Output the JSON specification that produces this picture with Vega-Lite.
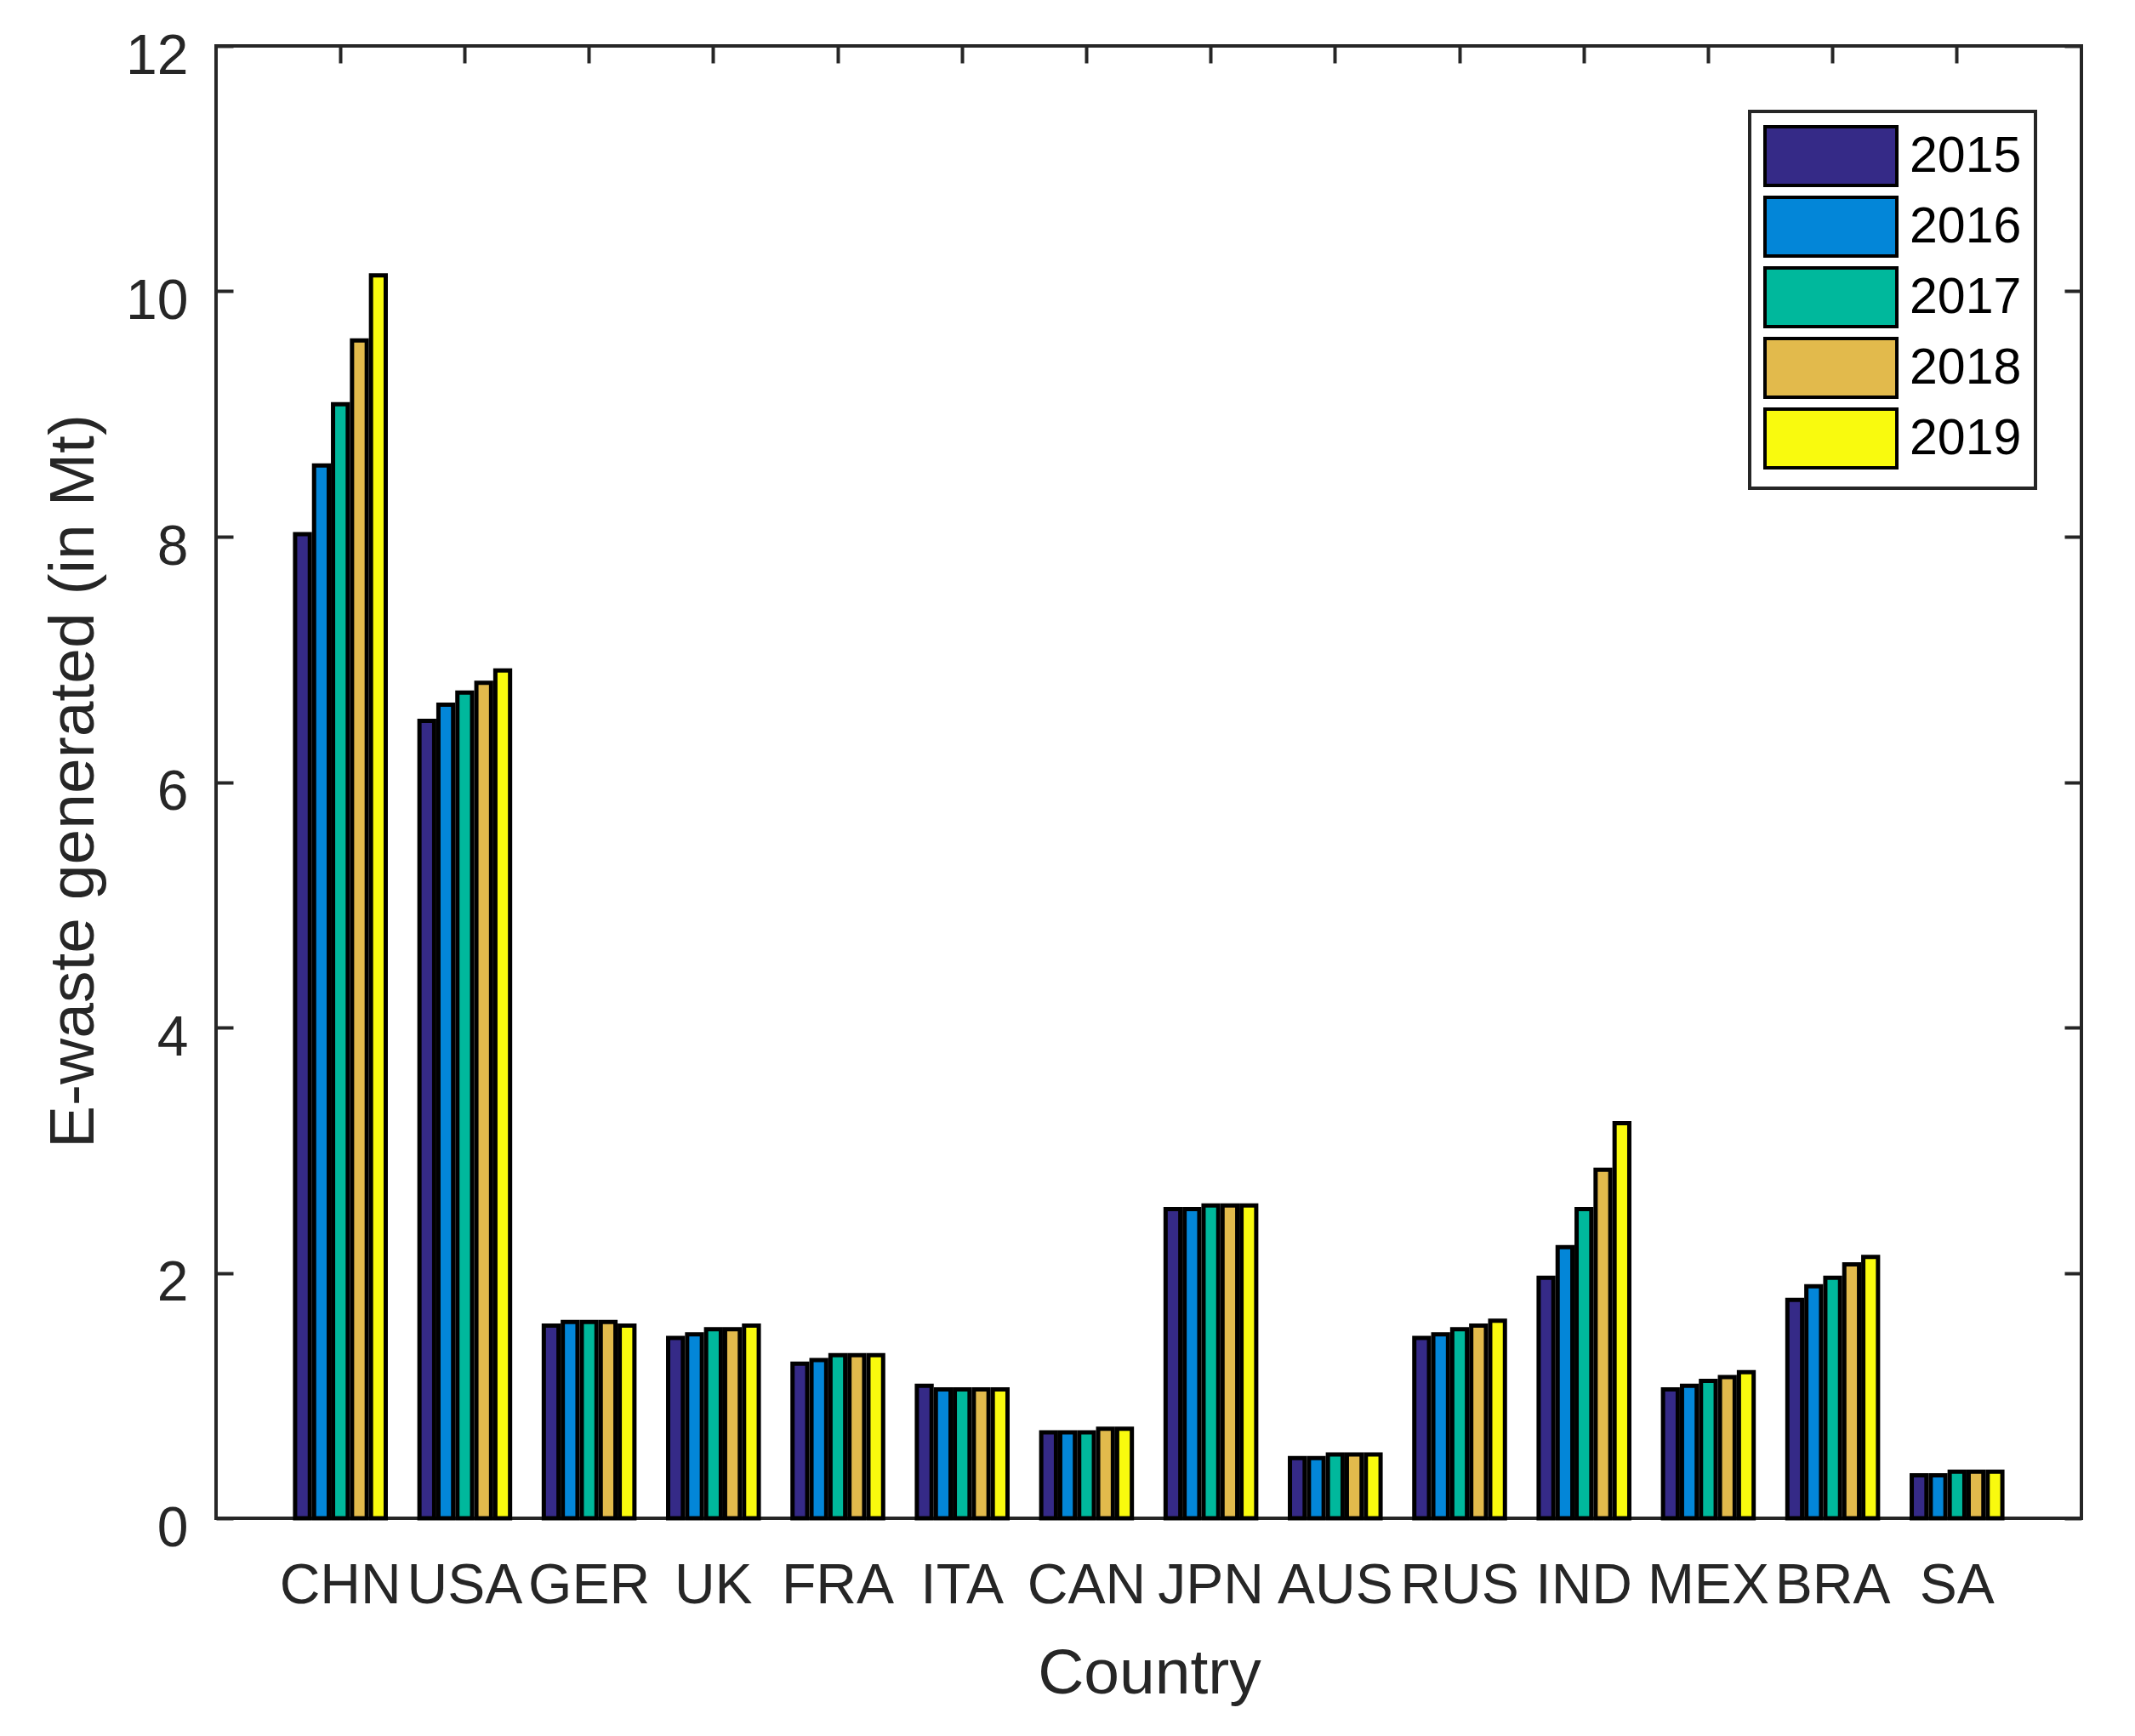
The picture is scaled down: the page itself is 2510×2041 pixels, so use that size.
{
  "$schema": "https://vega.github.io/schema/vega-lite/v6.json",
  "width": 2193,
  "height": 1731,
  "autosize": {"type": "none"},
  "padding": {"left": 254, "top": 54, "right": 63, "bottom": 256},
  "background": "white",
  "data": {
    "values": [
      {"country": "CHN", "year": "2015", "value": 8.02},
      {"country": "CHN", "year": "2016", "value": 8.58},
      {"country": "CHN", "year": "2017", "value": 9.08},
      {"country": "CHN", "year": "2018", "value": 9.60},
      {"country": "CHN", "year": "2019", "value": 10.13},
      {"country": "USA", "year": "2015", "value": 6.50},
      {"country": "USA", "year": "2016", "value": 6.63},
      {"country": "USA", "year": "2017", "value": 6.73},
      {"country": "USA", "year": "2018", "value": 6.81},
      {"country": "USA", "year": "2019", "value": 6.91},
      {"country": "GER", "year": "2015", "value": 1.57},
      {"country": "GER", "year": "2016", "value": 1.60},
      {"country": "GER", "year": "2017", "value": 1.60},
      {"country": "GER", "year": "2018", "value": 1.60},
      {"country": "GER", "year": "2019", "value": 1.57},
      {"country": "UK", "year": "2015", "value": 1.47},
      {"country": "UK", "year": "2016", "value": 1.50},
      {"country": "UK", "year": "2017", "value": 1.54},
      {"country": "UK", "year": "2018", "value": 1.54},
      {"country": "UK", "year": "2019", "value": 1.57},
      {"country": "FRA", "year": "2015", "value": 1.26},
      {"country": "FRA", "year": "2016", "value": 1.29},
      {"country": "FRA", "year": "2017", "value": 1.33},
      {"country": "FRA", "year": "2018", "value": 1.33},
      {"country": "FRA", "year": "2019", "value": 1.33},
      {"country": "ITA", "year": "2015", "value": 1.08},
      {"country": "ITA", "year": "2016", "value": 1.05},
      {"country": "ITA", "year": "2017", "value": 1.05},
      {"country": "ITA", "year": "2018", "value": 1.05},
      {"country": "ITA", "year": "2019", "value": 1.05},
      {"country": "CAN", "year": "2015", "value": 0.70},
      {"country": "CAN", "year": "2016", "value": 0.70},
      {"country": "CAN", "year": "2017", "value": 0.70},
      {"country": "CAN", "year": "2018", "value": 0.73},
      {"country": "CAN", "year": "2019", "value": 0.73},
      {"country": "JPN", "year": "2015", "value": 2.52},
      {"country": "JPN", "year": "2016", "value": 2.52},
      {"country": "JPN", "year": "2017", "value": 2.55},
      {"country": "JPN", "year": "2018", "value": 2.55},
      {"country": "JPN", "year": "2019", "value": 2.55},
      {"country": "AUS", "year": "2015", "value": 0.49},
      {"country": "AUS", "year": "2016", "value": 0.49},
      {"country": "AUS", "year": "2017", "value": 0.52},
      {"country": "AUS", "year": "2018", "value": 0.52},
      {"country": "AUS", "year": "2019", "value": 0.52},
      {"country": "RUS", "year": "2015", "value": 1.47},
      {"country": "RUS", "year": "2016", "value": 1.50},
      {"country": "RUS", "year": "2017", "value": 1.54},
      {"country": "RUS", "year": "2018", "value": 1.57},
      {"country": "RUS", "year": "2019", "value": 1.61},
      {"country": "IND", "year": "2015", "value": 1.96},
      {"country": "IND", "year": "2016", "value": 2.21},
      {"country": "IND", "year": "2017", "value": 2.52},
      {"country": "IND", "year": "2018", "value": 2.84},
      {"country": "IND", "year": "2019", "value": 3.22},
      {"country": "MEX", "year": "2015", "value": 1.05},
      {"country": "MEX", "year": "2016", "value": 1.08},
      {"country": "MEX", "year": "2017", "value": 1.12},
      {"country": "MEX", "year": "2018", "value": 1.15},
      {"country": "MEX", "year": "2019", "value": 1.19},
      {"country": "BRA", "year": "2015", "value": 1.78},
      {"country": "BRA", "year": "2016", "value": 1.89},
      {"country": "BRA", "year": "2017", "value": 1.96},
      {"country": "BRA", "year": "2018", "value": 2.07},
      {"country": "BRA", "year": "2019", "value": 2.13},
      {"country": "SA", "year": "2015", "value": 0.35},
      {"country": "SA", "year": "2016", "value": 0.35},
      {"country": "SA", "year": "2017", "value": 0.38},
      {"country": "SA", "year": "2018", "value": 0.38},
      {"country": "SA", "year": "2019", "value": 0.38}
    ]
  },
  "layer": [
    {
      "mark": {"type": "bar", "stroke": "black", "strokeWidth": 5, "opacity": 1},
      "encoding": {
        "x": {
          "field": "country", "type": "nominal", "sort": null,
          "scale": {"paddingInner": 0.237, "paddingOuter": 0.6185},
          "axis": {
            "orient": "bottom", "title": "Country", "ticks": false, "domain": false,
            "labelAngle": 0, "labelBaseline": "alphabetic", "labelPadding": 99,
            "titleX": 1097, "titleY": 205, "titleBaseline": "alphabetic", "titleAlign": "center", "titleAnchor": null
          }
        },
        "xOffset": {
          "field": "year", "type": "nominal",
          "scale": {"paddingInner": 0.224, "paddingOuter": 0.112}
        },
        "y": {
          "field": "value", "type": "quantitative",
          "scale": {"domain": [0, 12], "nice": false, "zero": true},
          "axis": {
            "orient": "left", "title": "E-waste generated (in Mt)", "domain": false,
            "values": [0, 2, 4, 6, 8, 10, 12], "format": "d",
            "ticks": true, "tickSize": -20, "tickWidth": 4, "tickColor": "#262626",
            "labelPadding": 53, "labelBaseline": "alphabetic", "labelOffset": 32,
            "titleX": -145, "titleY": 864, "titleBaseline": "alphabetic", "titleAlign": "center", "titleAngle": -90
          }
        },
        "color": {
          "field": "year", "type": "nominal",
          "scale": {"domain": ["2015", "2016", "2017", "2018", "2019"], "range": ["#352A87", "#0386D8", "#00B89C", "#E2BA4C", "#F9FA0E"]},
          "legend": {
            "title": null, "orient": "none", "legendX": 1803, "legendY": 77,
            "symbolType": "M-1,-1H3.493V1H-1Z", "symbolSize": 4761,
            "symbolStrokeColor": "black", "symbolStrokeWidth": 4, "symbolOpacity": 1,
            "labelFont": "Liberation Sans", "labelFontSize": 59, "labelColor": "black",
            "labelOffset": 99, "rowPadding": -2, "padding": 16,
            "strokeColor": "#262626", "fillColor": "white"
          }
        }
      }
    },
    {
      "mark": {"type": "bar", "opacity": 0},
      "encoding": {
        "x": {
          "field": "country", "type": "nominal", "sort": null,
          "axis": {"orient": "top", "labels": false, "title": null, "domain": false, "ticks": true, "tickSize": -20, "tickWidth": 4, "tickColor": "#262626"}
        },
        "xOffset": {"field": "year", "type": "nominal"},
        "y": {
          "field": "value", "type": "quantitative",
          "axis": {"orient": "right", "labels": false, "title": null, "domain": false, "values": [0, 2, 4, 6, 8, 10, 12], "ticks": true, "tickSize": -20, "tickWidth": 4, "tickColor": "#262626"}
        }
      }
    }
  ],
  "resolve": {"axis": {"x": "independent", "y": "independent"}},
  "config": {
    "view": {"stroke": "#262626", "strokeWidth": 4},
    "axis": {
      "grid": false,
      "labelFont": "Liberation Sans", "labelFontSize": 66, "labelColor": "#262626",
      "titleFont": "Liberation Sans", "titleFontSize": 75, "titleColor": "#262626", "titleFontWeight": "normal"
    },
    "legend": {"strokeWidth": 4}
  }
}
